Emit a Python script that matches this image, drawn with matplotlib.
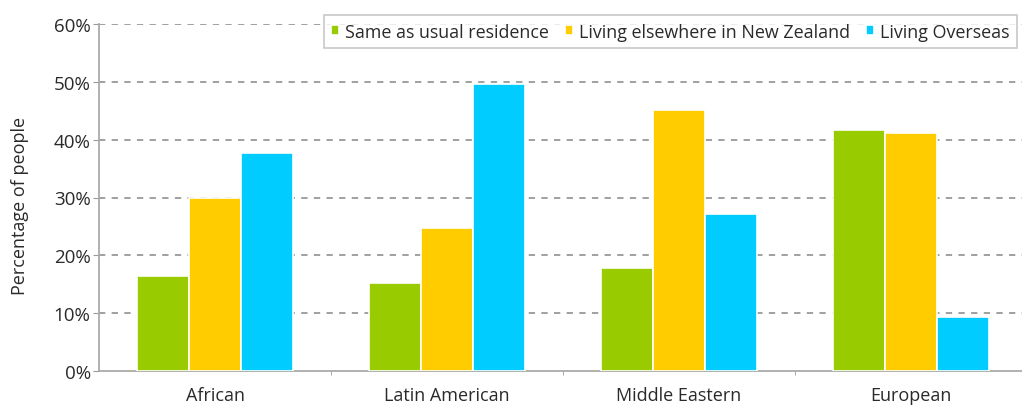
import matplotlib.pyplot as plt
import numpy as np
from matplotlib.ticker import FixedLocator, PercentFormatter

plt.rcParams['font.family'] = ['Open Sans', 'DejaVu Sans']

# %% Data
categories = ['African', 'Latin American', 'Middle Eastern', 'European']
series_names = ['Same as usual residence', 'Living elsewhere in New Zealand', 'Living Overseas']
same_residence = [16.4, 15.3, 17.8, 41.6]
elsewhere_nz = [30.0, 24.7, 45.1, 41.2]
overseas = [37.7, 49.7, 27.2, 9.3]
series_colors = ['#99cc00', '#ffcc00', '#00ccff']
y_ticks = [0, 10, 20, 30, 40, 50, 60]

# %% Plot
fig = plt.figure(figsize=(10.22, 4.06), dpi=100)
ax = fig.add_axes([99 / 1022, 1 - 372 / 406, 928 / 1022, 347 / 406])

x = np.arange(len(categories))
slot = 0.224
for i, (vals, name, col) in enumerate(zip([same_residence, elsewhere_nz, overseas],
                                          series_names, series_colors)):
    ax.bar(x + (i - 1) * slot, vals, width=slot, color=col, edgecolor='white',
           linewidth=1.2, label=name, zorder=3)

ax.set_xlim(-0.5, len(categories) - 0.5)
ax.set_ylim(0, 60)

# dashed grid lines (not at zero)
for v in y_ticks[1:]:
    ax.axhline(v, color='#999999', linestyle=(0, (3.5, 3.5)), linewidth=1.3, zorder=1)

ax.yaxis.set_major_locator(FixedLocator(y_ticks))
ax.yaxis.set_major_formatter(PercentFormatter(decimals=0))
ax.set_xticks(x)
ax.set_xticklabels(categories)
ax.xaxis.set_minor_locator(FixedLocator(x[:-1] + 0.5))
ax.tick_params(axis='x', which='major', length=0, pad=11, labelsize=13, colors='#2a2a2a')
ax.tick_params(axis='x', which='minor', length=3, color='#999999', direction='out')
ax.tick_params(axis='y', length=4, color='#999999', labelsize=13.5, pad=2, colors='#2a2a2a')
ax.tick_params(axis='y', color='#999999')

for side in ['top', 'right']:
    ax.spines[side].set_visible(False)
for side in ['left', 'bottom']:
    ax.spines[side].set_color('#aaaaaa')
    ax.spines[side].set_linewidth(1.3)

ax.set_ylabel('Percentage of people', fontsize=13, color='#2a2a2a')
ax.yaxis.set_label_coords(-70 / 928, 0.478)

leg = ax.legend(loc='upper right', bbox_to_anchor=(1017 / 1022, 1 - 16 / 406),
                bbox_transform=fig.transFigure, ncol=3, frameon=True, fancybox=False,
                edgecolor='#bbbbbb', fontsize=12.9, handlelength=0.42, handleheight=0.42,
                handletextpad=0.35, columnspacing=0.9, borderpad=0.42, borderaxespad=0,
                labelcolor='#2a2a2a')
leg.get_frame().set_linewidth(1.2)
leg.set_zorder(5)

fig.savefig('out.png', dpi=100)
